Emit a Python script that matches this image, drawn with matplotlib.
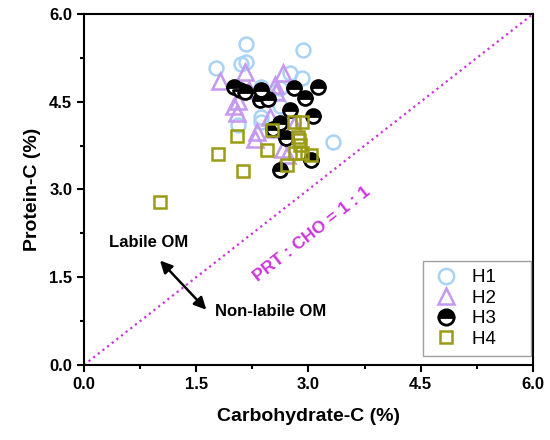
import matplotlib
matplotlib.use("Agg")
import matplotlib.pyplot as plt

plt.rcParams['font.family'] = ['Liberation Sans', 'DejaVu Sans']

# carbohydrate-C (x) and protein-C (y), in %
h1_x = [1.77, 2.10, 2.17, 2.17, 2.37, 2.46, 2.37, 2.92, 2.75, 2.91, 2.62, 2.62, 3.33, 2.06, 2.37]
h1_y = [5.07, 5.15, 5.18, 5.49, 4.76, 4.59, 4.24, 5.38, 4.99, 4.90, 4.73, 4.42, 3.82, 4.10, 4.16]

h2_x = [1.82, 2.15, 2.06, 2.00, 2.04, 2.20, 2.31, 2.28, 2.49, 2.66, 2.55, 2.57, 2.66, 2.71, 2.57, 2.80]
h2_y = [4.85, 5.00, 4.52, 4.42, 4.30, 4.70, 3.99, 3.87, 4.24, 4.99, 4.79, 4.67, 3.70, 3.59, 4.04, 4.10]

h3_x = [2.00, 2.08, 2.15, 2.37, 2.35, 2.46, 2.80, 2.95, 3.13, 2.75, 3.06, 2.53, 2.62, 2.70, 3.04, 2.62]
h3_y = [4.75, 4.70, 4.66, 4.70, 4.53, 4.55, 4.73, 4.56, 4.76, 4.36, 4.25, 4.03, 4.13, 3.88, 3.50, 3.33]

h4_x = [1.01, 1.79, 2.04, 2.13, 2.44, 2.51, 2.80, 2.91, 2.86, 2.89, 2.82, 2.91, 3.04, 2.71, 2.87]
h4_y = [2.79, 3.60, 3.92, 3.32, 3.67, 4.02, 4.15, 4.16, 3.90, 3.76, 3.62, 3.62, 3.59, 3.42, 3.85]

ticks = [0.0, 1.5, 3.0, 4.5, 6.0]

fig = plt.figure(figsize=(5.5, 4.4), dpi=100)
ax = fig.add_axes([0.1527, 0.1705, 0.8164, 0.7977])

# 1:1 line
ax.plot([0, 6], [0, 6], color='#CC33DD', linestyle=':', linewidth=1.6, zorder=1)

ax.plot(h1_x, h1_y, 'o', linestyle='none', markersize=10, markerfacecolor='none',
        markeredgecolor='#A9D3F5', markeredgewidth=1.8, label='H1', zorder=2)
ax.plot(h2_x, h2_y, '^', linestyle='none', markersize=11, markerfacecolor='none',
        markeredgecolor='#C699F0', markeredgewidth=1.8, label='H2', zorder=3)
ax.plot(h3_x, h3_y, 'o', linestyle='none', markersize=10, fillstyle='top',
        markerfacecolor='black', markerfacecoloralt='white',
        markeredgecolor='black', markeredgewidth=2.0, label='H3', zorder=4)
ax.plot(h4_x, h4_y, 's', linestyle='none', markersize=8.5, markerfacecolor='none',
        markeredgecolor='#9C9C14', markeredgewidth=1.8, label='H4', zorder=5)

ax.text(3.05, 2.24, 'PRT : CHO = 1 : 1', color='#CC33DD', fontsize=12.5, fontweight='bold',
        rotation=38, ha='center', va='center')
ax.text(0.87, 2.09, 'Labile OM', fontsize=12, fontweight='bold', ha='center', va='center')
ax.text(1.75, 0.92, 'Non-labile OM', fontsize=12, fontweight='bold', ha='left', va='center')
ax.annotate('', xy=(0.99, 1.82), xytext=(1.66, 0.91),
            arrowprops=dict(arrowstyle='<|-|>', color='black', lw=1.8, mutation_scale=18))

ax.set_xlim(0, 6)
ax.set_ylim(0, 6)
ax.set_xticks(ticks)
ax.set_yticks(ticks)
ax.set_xticklabels([f'{t:.1f}' for t in ticks], fontweight='bold', fontsize=12)
ax.set_yticklabels([f'{t:.1f}' for t in ticks], fontweight='bold', fontsize=12)
ax.set_xticks([0.75, 2.25, 3.75, 5.25], minor=True)
ax.set_yticks([0.75, 2.25, 3.75, 5.25], minor=True)
ax.tick_params(which='major', direction='out', length=5, width=1.5)
ax.tick_params(which='minor', direction='out', length=3, width=1.5)
for s in ax.spines.values():
    s.set_linewidth(1.5)

ax.set_xlabel('Carbohydrate-C (%)', fontsize=14, fontweight='bold', labelpad=12)
ax.set_ylabel('Protein-C (%)', fontsize=14, fontweight='bold', labelpad=6)

leg = ax.legend(loc='lower right', fontsize=13.5, frameon=True, fancybox=False,
                edgecolor='#888888', handletextpad=0.6, handlelength=1.6, borderpad=0.45,
                labelspacing=0.18, markerscale=1.1, borderaxespad=0.1,
                bbox_to_anchor=(1.0, 0.02))
leg.get_frame().set_linewidth(1.0)
# the reference box leaves extra room right of the labels
for t in leg.get_texts():
    t.set_text(t.get_text() + '     ')

fig.savefig('out.png', dpi=100)
